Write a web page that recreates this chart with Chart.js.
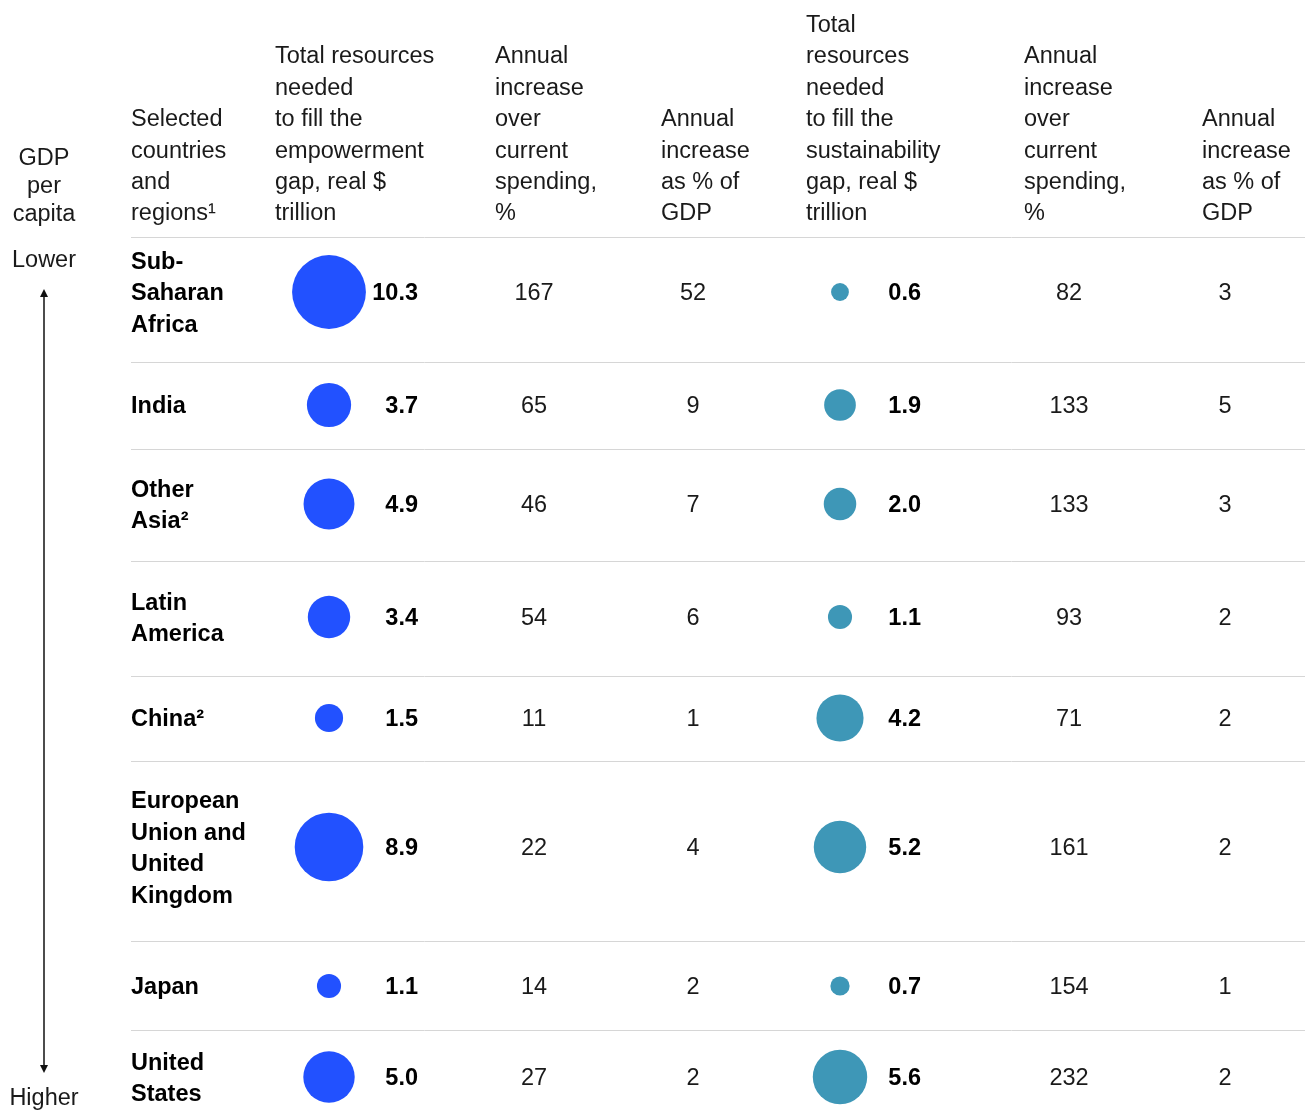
<!DOCTYPE html>
<html>
<head>
<meta charset="utf-8">
<script src="https://cdn.jsdelivr.net/npm/chart.js@4.4.1/dist/chart.umd.min.js"></script>
<style>
  html, body { margin: 0; background: #fff; }
  canvas { display: block; }
</style>
</head>
<body>
<canvas id="gapChart" width="1312" height="1110"></canvas>
<script>
// Data
const regions = ['Sub-\nSaharan\nAfrica', 'India', 'Other\nAsia²', 'Latin\nAmerica', 'China²',
                 'European\nUnion and\nUnited\nKingdom', 'Japan', 'United\nStates'];
const empowermentGap = [10.3, 3.7, 4.9, 3.4, 1.5, 8.9, 1.1, 5.0];
const empowermentIncrease = [167, 65, 46, 54, 11, 22, 14, 27];
const empowermentGdp = [52, 9, 7, 6, 1, 4, 2, 2];
const sustainabilityGap = [0.6, 1.9, 2.0, 1.1, 4.2, 5.2, 0.7, 5.6];
const sustainabilityIncrease = [82, 133, 133, 93, 71, 161, 154, 232];
const sustainabilityGdp = [3, 5, 3, 2, 2, 2, 1, 2];

const headers = [
    'Selected\ncountries\nand\nregions¹',
    'Total resources\nneeded\nto fill the\nempowerment\ngap, real $\ntrillion',
    'Annual\nincrease\nover\ncurrent\nspending,\n%',
    'Annual\nincrease\nas % of\nGDP',
    'Total\nresources\nneeded\nto fill the\nsustainability\ngap, real $\ntrillion',
    'Annual\nincrease\nover\ncurrent\nspending,\n%',
    'Annual\nincrease\nas % of\nGDP'
];

// Layout (table units = pixels of the page)
const headerX = [131, 275, 495, 661, 806, 1024, 1202];
const headerBottom = 212;
const lineGap = 31.4;
const textNudge = 2;
const ruleY = [237, 362, 449, 561, 676, 761, 941, 1030];
const rowY = [292, 405, 504, 617, 718, 847, 986, 1077];
const bubbleX = { emp: 329, sus: 840 };
const valueRight = { emp: 418, sus: 921 };
const centreX = { empInc: 534, empGdp: 693, susInc: 1069, susGdp: 1225 };
const ruleLeft = 131, ruleRight = 1305;
const arrowX = 44;

const BLUE = '#2251ff';
const TEAL = '#3e97b7';
const FONT = '"Liberation Sans", Arial, sans-serif';
const FONT_SIZE = '23.5px ';
const radiusFor = v => 11.5 * Math.sqrt(v);

const tablePlugin = {
    id: 'tableText',
    beforeDatasetsDraw(chart) {
        const { ctx, scales: { x, y } } = chart;
        const ty = v => y.getPixelForValue(v + textNudge);
        ctx.save();
        // row rules
        ctx.strokeStyle = '#d6d6d6';
        ctx.lineWidth = 1;
        ruleY.forEach(r => {
            const py = Math.round(y.getPixelForValue(r)) + 0.5;
            ctx.beginPath();
            ctx.moveTo(x.getPixelForValue(ruleLeft), py);
            ctx.lineTo(x.getPixelForValue(ruleRight), py);
            ctx.stroke();
        });

        // column headers, bottom aligned
        ctx.fillStyle = '#1a1a1a';
        ctx.font = FONT_SIZE + FONT;
        ctx.textAlign = 'left';
        ctx.textBaseline = 'middle';
        headers.forEach((h, i) => {
            const lines = h.split('\n');
            lines.forEach((ln, j) => {
                const ly = headerBottom - (lines.length - 1 - j) * lineGap;
                ctx.fillText(ln, x.getPixelForValue(headerX[i]), ty(ly));
            });
        });

        // GDP per capita axis
        ctx.textAlign = 'center';
        const ax = x.getPixelForValue(arrowX);
        ['GDP', 'per', 'capita'].forEach((ln, j) => {
            ctx.fillText(ln, ax, ty(157 + j * 28));
        });
        ctx.fillText('Lower', ax, ty(259));
        ctx.fillText('Higher', ax, ty(1097));

        const top = y.getPixelForValue(289), bottom = y.getPixelForValue(1073);
        ctx.strokeStyle = '#111';
        ctx.fillStyle = '#111';
        ctx.lineWidth = 1.5;
        ctx.beginPath();
        ctx.moveTo(ax, top + 6);
        ctx.lineTo(ax, bottom - 6);
        ctx.stroke();
        ctx.beginPath();
        ctx.moveTo(ax, top); ctx.lineTo(ax - 4, top + 8); ctx.lineTo(ax + 4, top + 8); ctx.closePath();
        ctx.moveTo(ax, bottom); ctx.lineTo(ax - 4, bottom - 8); ctx.lineTo(ax + 4, bottom - 8); ctx.closePath();
        ctx.fill();
        ctx.restore();
    },
    afterDatasetsDraw(chart) {
        const { ctx, scales: { x, y } } = chart;
        const ty = v => y.getPixelForValue(v + textNudge);
        ctx.save();
        ctx.textBaseline = 'middle';
        regions.forEach((name, i) => {
            const cy = rowY[i];
            const py = ty(cy);

            // region label
            const lines = name.split('\n');
            ctx.font = 'bold ' + FONT_SIZE + FONT;
            ctx.fillStyle = '#000';
            ctx.textAlign = 'left';
            lines.forEach((ln, j) => {
                const ly = cy + (j - (lines.length - 1) / 2) * lineGap;
                ctx.fillText(ln, x.getPixelForValue(headerX[0]), ty(ly));
            });

            // bubble values
            ctx.textAlign = 'right';
            ctx.fillText(empowermentGap[i].toFixed(1), x.getPixelForValue(valueRight.emp), py);
            ctx.fillText(sustainabilityGap[i].toFixed(1), x.getPixelForValue(valueRight.sus), py);

            // plain columns
            ctx.font = FONT_SIZE + FONT;
            ctx.fillStyle = '#1a1a1a';
            ctx.textAlign = 'center';
            ctx.fillText(String(empowermentIncrease[i]), x.getPixelForValue(centreX.empInc), py);
            ctx.fillText(String(empowermentGdp[i]), x.getPixelForValue(centreX.empGdp), py);
            ctx.fillText(String(sustainabilityIncrease[i]), x.getPixelForValue(centreX.susInc), py);
            ctx.fillText(String(sustainabilityGdp[i]), x.getPixelForValue(centreX.susGdp), py);
        });
        ctx.restore();
    }
};

new Chart(document.getElementById('gapChart'), {
    type: 'bubble',
    data: {
        datasets: [{
            label: 'Empowerment gap, real $ trillion',
            data: empowermentGap.map((v, i) => ({ x: bubbleX.emp, y: rowY[i], r: radiusFor(v) })),
            backgroundColor: BLUE,
            borderWidth: 0,
            clip: false
        }, {
            label: 'Sustainability gap, real $ trillion',
            data: sustainabilityGap.map((v, i) => ({ x: bubbleX.sus, y: rowY[i], r: radiusFor(v) })),
            backgroundColor: TEAL,
            borderWidth: 0,
            clip: false
        }]
    },
    options: {
        responsive: false,
        animation: false,
        events: [],
        layout: { padding: 0, autoPadding: false },
        scales: {
            x: { type: 'linear', min: 0, max: 1312, display: false },
            y: { type: 'linear', min: 0, max: 1110, reverse: true, display: false }
        },
        plugins: {
            legend: { display: false },
            tooltip: { enabled: false }
        }
    },
    plugins: [tablePlugin]
});
</script>
</body>
</html>
